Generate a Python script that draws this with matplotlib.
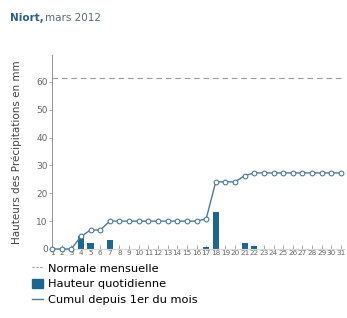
import matplotlib.pyplot as plt
from matplotlib.lines import Line2D
from matplotlib.patches import Patch

# daily rainfall, Niort, March 2012 (mm)
days = list(range(1, 32))
daily = [0, 0, 0, 4.5, 2.3, 0, 3.2, 0, 0, 0, 0, 0, 0, 0, 0, 0,
         0.8, 13.3, 0, 0, 2.2, 1.0, 0, 0, 0, 0, 0, 0, 0, 0, 0]
cumul = [0, 0, 0, 4.5, 6.8, 6.8, 10.0, 10.0, 10.0, 10.0, 10.0, 10.0, 10.0, 10.0, 10.0, 10.0,
         10.8, 24.1, 24.1, 24.1, 26.3, 27.3, 27.3, 27.3, 27.3, 27.3, 27.3, 27.3, 27.3, 27.3, 27.3]
normale = 61.5

bar_col = '#1d6690'
line_col = '#4f7a98'
grey = '#666666'

fig = plt.figure(figsize=(3.47, 3.18), dpi=100)
# axes placed in pixels: left 52, right 344, top 55, bottom 249
ax = fig.add_axes([52/347, 1-249/318, (344-52)/347, (249-55)/318])
ax.set_xlim(1, 31.31)
ax.set_ylim(0, 69.6)

ax.bar(days, daily, width=0.65, color=bar_col, zorder=2)
ax.plot(days, cumul, color=line_col, lw=1.0, marker='o', ms=3.4,
        mfc='white', mec=line_col, mew=0.8, clip_on=False, zorder=3)
ax.axhline(normale, color='#9a9a9a', lw=0.8, dashes=(5, 3.5), xmax=0.995)

for s in ['top', 'right']:
    ax.spines[s].set_visible(False)
ax.spines['left'].set_color('#999999')
ax.spines['left'].set_linewidth(0.8)
ax.spines['bottom'].set_color('#d8d8d8')
ax.spines['bottom'].set_linewidth(0.8)

ax.set_yticks(range(0, 70, 10))
ax.set_xticks(days)
ax.tick_params(axis='y', labelsize=6.5, labelcolor=grey, color='#999999',
               length=2, width=0.6, pad=1)
ax.tick_params(axis='x', direction='in', labelsize=5.2, labelcolor=grey,
               color='#999999', length=3, width=0.6, pad=1)

fig.text(17/347, 1-152/318, 'Hauteurs des Précipitations en mm', rotation=90,
         ha='center', va='center', fontsize=7.5, color='#444444')

fig.text(10/347, 1-18/318, 'Niort,', fontsize=7.5, fontweight='bold',
         color='#2f5f85', va='center')
fig.text(45/347, 1-18/318, 'mars 2012', fontsize=7.5, color='#5a6a78',
         va='center')

handles = [Line2D([], [], color='#9a9a9a', lw=0.8, dashes=(2, 1.5)),
           Patch(color=bar_col),
           Line2D([], [], color=line_col, lw=1.0)]
labels = ['Normale mensuelle', 'Hauteur quotidienne', 'Cumul depuis 1er du mois']
fig.legend(handles, labels, loc='upper left', bbox_to_anchor=(32/347, 1-263/318),
           frameon=False, fontsize=8.2, handlelength=1.0, handleheight=0.9,
           handletextpad=0.4, labelspacing=0.45, borderpad=0, borderaxespad=0)

fig.savefig('out.png')
